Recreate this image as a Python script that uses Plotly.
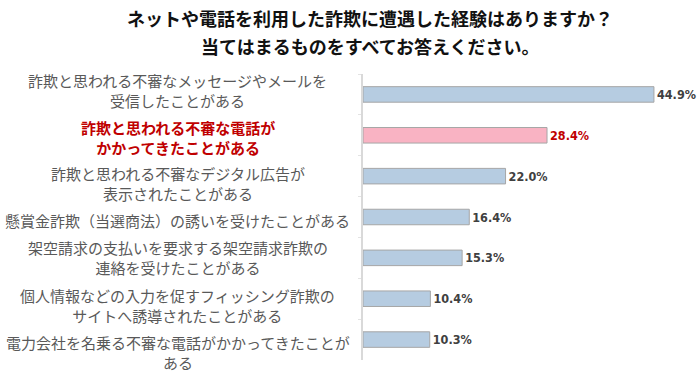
import plotly.graph_objects as go

# ---- data ----
categories = [
    "詐欺と思われる不審なメッセージやメールを<br>受信したことがある",
    "詐欺と思われる不審な電話が<br>かかってきたことがある",
    "詐欺と思われる不審なデジタル広告が<br>表示されたことがある",
    "懸賞金詐欺（当選商法）の誘いを受けたことがある",
    "架空請求の支払いを要求する架空請求詐欺の<br>連絡を受けたことがある",
    "個人情報などの入力を促すフィッシング詐欺の<br>サイトへ誘導されたことがある",
    "電力会社を名乗る不審な電話がかかってきたことが<br>ある",
]
values = [44.9, 28.4, 22.0, 16.4, 15.3, 10.4, 10.3]
highlighted = [False, True, False, False, False, False, False]
title_lines = [
    "ネットや電話を利用した詐欺に遭遇した経験はありますか？",
    "当てはまるものをすべてお答えください。",
]

# ---- styles ----
BLUE = "#b6cce1"
PINK = "#f9b3c3"
RED = "#c00000"
GRAY_TXT = "#595959"
VAL_TXT = "#404040"
JP = "Noto Sans CJK JP"

W, H = 700, 374
ML, MR, MT, MB = 363, 13, 74, 14
PW = W - ML - MR
PH = H - MT - MB
label_dy = [-4, 2, 7, 3.5, 0, 6.5, 13]   # px, downward offset of label block
label_cx = 177.5

fig = go.Figure(
    go.Bar(
        x=values,
        y=categories,
        orientation="h",
        marker=dict(
            color=[PINK if h else BLUE for h in highlighted],
            line=dict(color="#a6a6a6", width=1),
        ),
        texttemplate="%{x:.1f}%",
        textposition="outside",
        textfont=dict(
            family="DejaVu Sans Condensed",
            size=12.5,
            weight="bold",
            color=[RED if h else VAL_TXT for h in highlighted],
        ),
        cliponaxis=False,
        hoverinfo="skip",
    )
)

annotations = []
for cat, hl, dy in zip(categories, highlighted, label_dy):
    annotations.append(
        dict(
            text=cat,
            xref="paper",
            yref="y",
            x=(label_cx - ML) / PW,
            y=cat,
            xanchor="center",
            yanchor="middle",
            align="center",
            yshift=-dy,
            showarrow=False,
            font=dict(
                family=JP,
                size=15,
                color=RED if hl else GRAY_TXT,
                weight="bold" if hl else "normal",
            ),
        )
    )

title_y_px = [18, 46]
for t, py in zip(title_lines, title_y_px):
    annotations.append(
        dict(
            text=t,
            xref="paper",
            yref="paper",
            x=(370 - ML) / PW,
            y=(MT + PH - py) / PH,
            xanchor="center",
            yanchor="middle",
            showarrow=False,
            font=dict(family=JP, size=18, color="#111111", weight="bold"),
        )
    )

fig.update_layout(
    width=W,
    height=H,
    margin=dict(l=ML, r=MR, t=MT, b=MB),
    paper_bgcolor="white",
    plot_bgcolor="white",
    showlegend=False,
    bargap=0.62,
    annotations=annotations,
    xaxis=dict(visible=False, range=[0, 50]),
    yaxis=dict(
        autorange="reversed",
        showticklabels=False,
        showgrid=False,
        zeroline=False,
        showline=True,
        linecolor="#d9d9d9",
        linewidth=1.5,
        ticks="outside",
        tickson="boundaries",
        ticklen=3,
        tickcolor="#e3e3e3",
    ),
)

fig.write_html(
    "out.html",
    config={"displayModeBar": False},
    post_script="document.body.style.margin='0';document.body.style.padding='0';",
)
